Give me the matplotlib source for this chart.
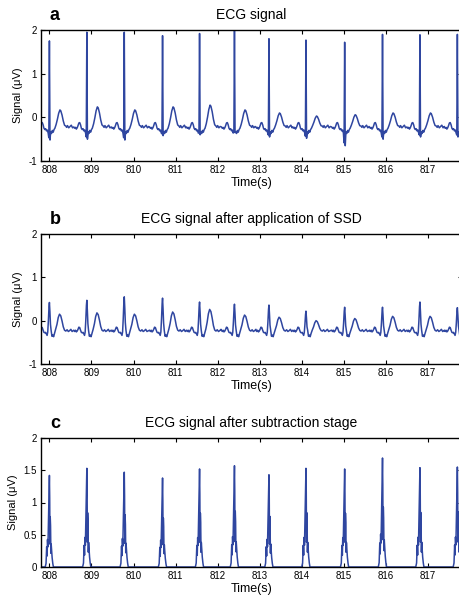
import numpy as np
import matplotlib
matplotlib.use("Agg")
from matplotlib import pyplot as plt

plt.rcParams['font.family'] = ['Liberation Sans', 'DejaVu Sans']

# R-peak times (s)
beat_t = [808.00, 808.89, 809.78, 810.69, 811.57, 812.40,
          813.22, 814.10, 815.02, 815.92, 816.81, 817.70]

# panel a: raw ECG
r_amp_a = [1.75, 1.95, 1.95, 1.87, 1.92, 1.98, 1.80, 1.77, 1.72, 1.90, 1.89, 1.90]
s_amp_a = [-0.52, -0.50, -0.52, -0.42, -0.40, -0.35, -0.45, -0.48, -0.65, -0.50, -0.45, -0.45]
t_amp_a = [0.17, 0.24, 0.17, 0.24, 0.28, 0.17, 0.10, 0.03, 0.06, 0.10, 0.10, 0.10]

# panel b: after SSD
r_amp_b = [0.42, 0.47, 0.55, 0.52, 0.43, 0.38, 0.36, 0.22, 0.31, 0.31, 0.43, 0.30]
t_amp_b = [0.15, 0.18, 0.15, 0.20, 0.26, 0.13, 0.08, 0.00, 0.05, 0.10, 0.10, 0.10]

# panel c: after subtraction
peak_c = [1.42, 1.53, 1.47, 1.38, 1.52, 1.57, 1.43, 1.53, 1.52, 1.69, 1.54, 1.55]

# beat shapes (offset from R peak, kind, value)
tmpl_a = [(-0.31, 'v', -0.22), (-0.29, 'v', -0.25), (-0.27, 'v', -0.23), (-0.25, 'v', -0.27),
          (-0.23, 'v', -0.24), (-0.21, 'v', -0.19), (-0.19, 'v', -0.13), (-0.17, 'v', -0.12),
          (-0.15, 'v', -0.17), (-0.13, 'v', -0.25), (-0.11, 'v', -0.28), (-0.09, 'v', -0.26),
          (-0.07, 'v', -0.31), (-0.05, 'v', -0.29), (-0.03, 'v', -0.36), (-0.014, 'Q', 0.9),
          (0.0, 'R', 1.0), (0.014, 'S', 1.0), (0.03, 'v', -0.33), (0.05, 'v', -0.37),
          (0.07, 'v', -0.30), (0.09, 'v', -0.34), (0.11, 'v', -0.28), (0.13, 'v', -0.25),
          (0.16, 'T', 0.15), (0.19, 'T', 0.45), (0.22, 'T', 0.8), (0.25, 'T', 1.0),
          (0.27, 'T', 0.95), (0.30, 'T', 0.7), (0.33, 'T', 0.35), (0.36, 'T', 0.1),
          (0.39, 'v', -0.20), (0.41, 'v', -0.23), (0.43, 'v', -0.19), (0.46, 'v', -0.24),
          (0.49, 'v', -0.21), (0.52, 'v', -0.18), (0.55, 'v', -0.24), (0.58, 'v', -0.21)]

tmpl_b = [(-0.31, 'v', -0.22), (-0.29, 'v', -0.25), (-0.27, 'v', -0.22), (-0.25, 'v', -0.26),
          (-0.23, 'v', -0.24), (-0.21, 'v', -0.20), (-0.19, 'v', -0.15), (-0.17, 'v', -0.16),
          (-0.15, 'v', -0.22), (-0.13, 'v', -0.27), (-0.11, 'v', -0.28), (-0.09, 'v', -0.27),
          (-0.07, 'v', -0.31), (-0.055, 'v', -0.34), (-0.04, 'R', 0.05), (-0.025, 'R', 0.4),
          (-0.01, 'R', 0.85), (0.0, 'R', 1.0), (0.012, 'R', 0.7), (0.025, 'R', 0.3),
          (0.04, 'v', -0.22), (0.06, 'v', -0.36), (0.08, 'v', -0.33), (0.10, 'v', -0.37),
          (0.12, 'v', -0.30), (0.15, 'T', 0.1), (0.18, 'T', 0.4), (0.21, 'T', 0.8),
          (0.24, 'T', 1.0), (0.27, 'T', 0.9), (0.30, 'T', 0.6), (0.33, 'T', 0.25),
          (0.36, 'T', 0.05), (0.39, 'v', -0.24), (0.42, 'v', -0.21), (0.45, 'v', -0.25),
          (0.48, 'v', -0.23), (0.51, 'v', -0.20), (0.54, 'v', -0.25), (0.58, 'v', -0.23)]

tmpl_c = [(-0.31, 'v', 0.0), (-0.10, 'v', 0.0), (-0.08, 'R', 0.04), (-0.065, 'R', 0.22),
          (-0.055, 'R', 0.12), (-0.045, 'R', 0.30), (-0.035, 'R', 0.22), (-0.025, 'R', 0.45),
          (-0.015, 'R', 0.65), (-0.007, 'R', 0.9), (0.0, 'R', 1.0), (0.007, 'R', 0.75),
          (0.013, 'R', 0.25), (0.019, 'R', 0.55), (0.027, 'R', 0.45), (0.035, 'R', 0.15),
          (0.042, 'R', 0.25), (0.052, 'R', 0.18), (0.065, 'R', 0.1), (0.08, 'R', 0.04),
          (0.095, 'v', 0.0), (0.58, 'v', 0.0)]


def build(tmpl, r_base, r_vals, t_base=None, t_vals=None, s_vals=None):
    xs, ys = [], []
    start = tmpl[0][0]
    for i, bt in enumerate(beat_t):
        stop = beat_t[i + 1] + start if i + 1 < len(beat_t) else np.inf
        for dt, kind, val in tmpl:
            t = bt + dt
            if t >= stop:
                break
            if kind == 'v':
                y = val
            elif kind == 'R':
                y = r_base + val * (r_vals[i] - r_base)
            elif kind == 'T':
                y = t_base + val * (t_vals[i] - t_base)
            else:  # Q / S dips
                y = val * s_vals[i]
            xs.append(t)
            ys.append(y)
    return np.array(xs), np.array(ys)


xa, ya = build(tmpl_a, -0.3, r_amp_a, -0.22, t_amp_a, s_amp_a)
xb, yb = build(tmpl_b, -0.3, r_amp_b, -0.24, t_amp_b)
xc, yc = build(tmpl_c, 0.0, peak_c)

W, H = 459, 602
fig = plt.figure(figsize=(W / 100, H / 100), dpi=100)

line_col = '#2f46a0'
panels = [
    (xa, ya, 30, 161, (-1, 2), [-1, 0, 1, 2], ['-1', '0', '1', '2'], 'a', 'ECG signal'),
    (xb, yb, 234, 364, (-1, 2), [-1, 0, 1, 2], ['-1', '0', '1', '2'], 'b',
     'ECG signal after application of SSD'),
    (xc, yc, 438, 567, (0, 2), [0, 0.5, 1, 1.5, 2], ['0', '0.5', '1', '1.5', '2'], 'c',
     'ECG signal after subtraction stage'),
]

left_px, right_px = 41, 462
for x, y, top, bot, ylim, yt, ytl, letter, title in panels:
    ax = fig.add_axes([left_px / W, 1 - bot / H, (right_px - left_px) / W, (bot - top) / H])
    ax.plot(x, y, color=line_col, lw=1.1)
    ax.set_xlim(807.80, 817.81)
    ax.set_ylim(*ylim)
    ax.set_xticks(range(808, 818))
    ax.set_yticks(yt)
    ax.set_yticklabels(ytl)
    ax.tick_params(direction='in', top=True, right=True, length=3, width=0.8,
                   labelsize=7, pad=3)
    for sp in ax.spines.values():
        sp.set_linewidth(1.0)
    ax.set_xlabel('Time(s)', fontsize=9, labelpad=1)
    ax.set_ylabel('Signal (\u03bcV)', fontsize=8, labelpad=4)
    ax.set_title(title, fontsize=10, pad=8)
    fig.text(55 / W, 1 - (top - 15) / H, letter, fontsize=13, fontweight='bold',
             ha='center', va='center')

fig.savefig('out.png', dpi=100)
